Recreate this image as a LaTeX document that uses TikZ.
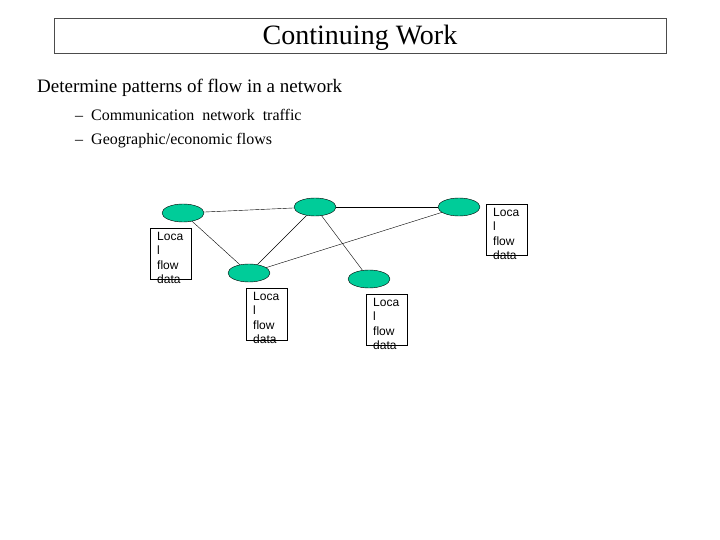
\documentclass[tikz,border=0pt]{standalone}
\usepackage{fontspec}
\setmainfont{Liberation Serif}
\newfontfamily\arialf{Liberation Sans}
\usetikzlibrary{shapes.geometric}
\definecolor{nodegreen}{RGB}{0,204,153}
\begin{document}
\begin{tikzpicture}[x=1pt,y=-1pt,
  net/.style={ellipse,draw=black,fill=nodegreen,minimum width=42pt,minimum height=18pt,inner sep=0pt},
  lbox/.style={draw=black,thin},
  ltext/.style={font=\arialf\fontsize{12}{14.5}\selectfont,align=left,anchor=north west,inner sep=0pt},
  edge/.style={draw=black,thin}]
\useasboundingbox (0,0) rectangle (720,540);
\node[draw=black!70,minimum width=612pt,minimum height=35pt,inner sep=0pt] (title) at (360,35.5) {};
\node[font=\fontsize{28}{30}\selectfont] (tt) at (360,38) {Continuing Work};
\node[anchor=west,font=\fontsize{19}{22}\selectfont,inner sep=0pt] (l1) at (37,88) {Determine patterns of flow in a network};
\node[anchor=west,font=\fontsize{16}{19}\selectfont,inner sep=0pt] (b1) at (75,115) {–\hspace{8pt}Communication\ \ network\ \ traffic};
\node[anchor=west,font=\fontsize{16}{19}\selectfont,inner sep=0pt] (b2) at (75,141) {–\hspace{8pt}Geographic/economic flows};
\node[net] (A) at (183,213) {};
\node[net] (B) at (315,207) {};
\node[net] (C) at (459,207) {};
\node[net] (D) at (249,273) {};
\node[net] (E) at (369,279) {};
\draw[edge] (A) -- (B);
\draw[edge] (B) -- (C);
\draw[edge] (A) -- (D);
\draw[edge] (B) -- (D);
\draw[edge] (B) -- (E);
\draw[edge] (C) -- (D);
\draw[lbox] (150,228) rectangle (191,279);
\node[ltext] (tA) at (157,232) {Loca\\l\\flow\\data};
\draw[lbox] (486,204) rectangle (527,255);
\node[ltext] (tC) at (493,208) {Loca\\l\\flow\\data};
\draw[lbox] (246,288) rectangle (287,340);
\node[ltext] (tD) at (253,292) {Loca\\l\\flow\\data};
\draw[lbox] (366,294) rectangle (407,345);
\node[ltext] (tE) at (373,298) {Loca\\l\\flow\\data};
\end{tikzpicture}
\end{document}
